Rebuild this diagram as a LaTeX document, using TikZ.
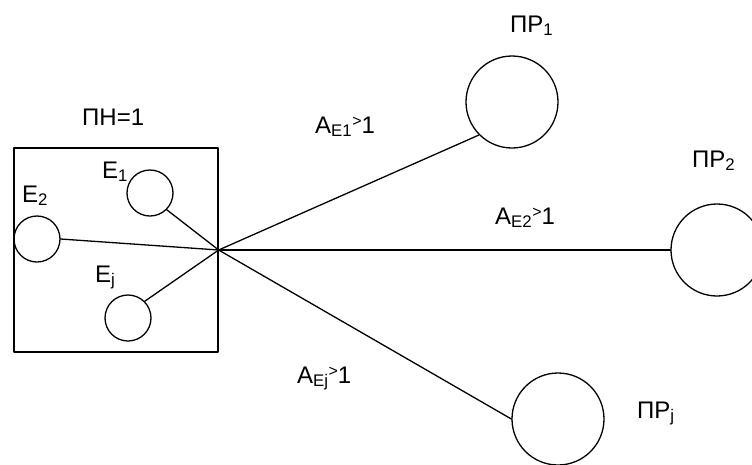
\documentclass[tikz,border=0pt]{standalone}
\usepackage{fontspec}
\setmainfont{Liberation Sans}
\usetikzlibrary{positioning}
\newcommand{\gtmark}{\raisebox{0.5ex}{\fontsize{16}{16}\selectfont >}}

\begin{document}
\begin{tikzpicture}[x=1pt,y=-1pt,line cap=round,line join=round,
  elem/.style={draw,circle,line width=1.3pt,minimum size=46pt,inner sep=0pt},
  pr/.style={draw,circle,line width=1.3pt,minimum size=92pt,inner sep=0pt},
  link/.style={line width=1.3pt},
  lbl/.style={inner sep=0pt,anchor=base west,font=\fontsize{24}{28}\selectfont}]
\clip (0,0) rectangle (752,464);
\node[draw,line width=1.3pt,minimum width=204pt,minimum height=204pt,inner sep=0pt] (pn) at (116,250) {};
\coordinate (hub) at (pn.east);
\node[elem] (e1) at (150,193) {};
\node[elem] (e2) at (37,239) {};
\node[elem] (ej) at (128,318) {};
\node[pr] (p1) at (512,102) {};
\node[pr] (p2) at (717,250) {};
\node[pr] (pj) at (558,419) {};
\draw[link] (hub) -- (e1.south east);
\draw[link] (hub) -- (e2.east);
\draw[link] (hub) -- (ej.north east);
\draw[link] (hub) -- (p1.225);
\draw[link] (hub) -- (p2.west);
\draw[link] (hub) -- (pj.west);
\node[lbl] (pnlbl) at (82,125) {ПН=1};
\node[lbl] (e1lbl) at (102,178) {E\textsubscript{1}};
\node[lbl] (e2lbl) at (22,202) {E\textsubscript{2}};
\node[lbl] (ejlbl) at (95,282) {E\textsubscript{j}};
\node[lbl] (p1lbl) at (510,32) {ПР\textsubscript{1}};
\node[lbl] (p2lbl) at (692,167) {ПР\textsubscript{2}};
\node[lbl] (pjlbl) at (637,418) {ПР\textsubscript{j}};
\node[lbl] (a1lbl) at (315,133) {A\textsubscript{E1}\gtmark1};
\node[lbl] (a2lbl) at (495,224) {A\textsubscript{E2}\gtmark1};
\node[lbl] (ajlbl) at (297,383) {A\textsubscript{Ej}\gtmark1};
\end{tikzpicture}
\end{document}
